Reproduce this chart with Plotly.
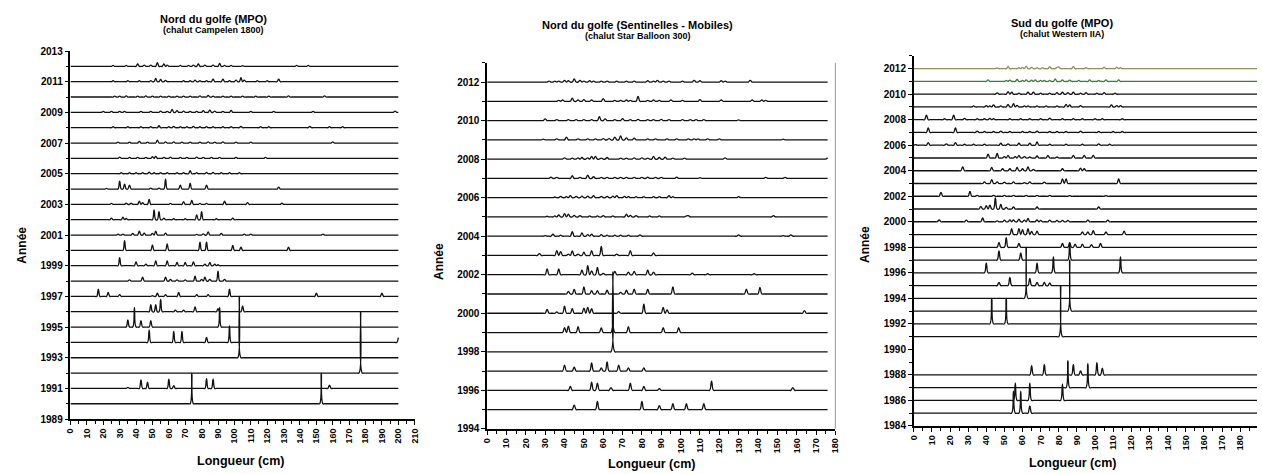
import numpy as np
import plotly.graph_objects as go

W, H = 1262, 474

# ---------------------------------------------------------------------------
# Distributions de fréquences de longueur (%) par année : (longueur cm, %)
# ---------------------------------------------------------------------------
nord_mpo_annees = list(range(2012, 1989, -1))
nord_mpo_pics = [
    [(26,1.5),(34,1.5),(41,4),(45,2),(49,2),(53,6),(57,4),(59,2),(67,1.5),(72,1.5),(75,2),(78,4),(82,2),(87,2),(91,5),(94,1.5),(98,1.5),(105,1),(138,1.5),(145,1.5)],
    [(26,1.6),(35,1.6),(42,1.6),(49,1.6),(52,5.3),(55,3.7),(58,2),(69,1.6),(73,1.6),(76,2.7),(79,1.6),(83,1.6),(87,4),(93,4),(97,1.6),(101,2.7),(104,6.4),(106,2.7),(114,1.6),(120,1.6),(127,4)],
    [(27,1.6),(30,1.6),(34,2),(41,1.6),(46,2),(50,1.6),(55,1.6),(60,1.6),(65,1.6),(69,1.6),(73,1.6),(79,2),(84,2.7),(87,1.6),(93,1.6),(98,1.6),(105,1.6),(113,1.6),(121,1.6),(133,2),(155,2)],
    [(20,1.6),(25,1.6),(30,1.6),(33,1.6),(43,1.6),(49,1.6),(55,2),(59,1.6),(62,4.8),(65,2.7),(69,2),(73,1.6),(77,1.6),(81,2.7),(85,3.7),(88,2),(93,1.6),(98,3.2),(110,1.6),(124,1.6),(148,1.6),(198,2)],
    [(26,1.6),(35,1.6),(43,1.6),(49,1.6),(54,3.2),(60,1.6),(63,2),(67,1.6),(71,1.6),(75,2),(79,1.6),(83,1.6),(87,1.6),(93,1.6),(98,1.6),(104,2),(116,1.6),(121,1.6),(146,2),(158,1.6),(166,1.6)],
    [(29,1.6),(36,1.6),(42,2.7),(47,1.6),(53,4.8),(58,2),(63,2),(68,1.6),(73,1.6),(79,1.6),(84,2),(88,1.6),(93,2),(101,1.6),(110,1.6),(160,2)],
    [(30,2),(36,1.6),(41,1.6),(46,1.6),(50,2.7),(52,3.2),(57,1.6),(61,2),(67,1.6),(71,1.6),(77,2),(81,1.6),(86,1.6),(91,1.6),(101,1.6),(119,1.6)],
    [(31,1.6),(36,1.6),(40,1.6),(44,1.6),(48,2.7),(51,1.6),(55,1.6),(59,1.6),(65,1.6),(69,1.6),(73,4.8),(77,1.6),(83,2),(87,2),(92,1.6),(97,1.6),(103,1.6)],
    [(22,1),(30,13),(33,8),(36,6.4),(49,1.6),(54,1.6),(58,16),(67,6.4),(73,9.6),(83,6.4),(127,3.2)],
    [(25,1.6),(34,2),(37,2),(42,5.3),(44,2.7),(48,8),(61,1.6),(69,4.3),(74,6.4),(79,1.6),(83,1.6),(94,5.3),(108,2.7),(129,2)],
    [(25,2.7),(32,4.3),(34,2),(51,16),(54,13),(57,2.7),(63,1.6),(70,1.6),(77,8),(80,13),(89,1.6),(99,2.7)],
    [(29,1.6),(32,1.6),(38,2.7),(42,6.4),(45,3.2),(50,2.7),(52,6.4),(58,3.2),(77,1),(81,2),(84,5.3),(92,2.7),(106,1.6),(110,1.6),(154,1.6)],
    [(33,16),(50,9),(59,10.6),(79,13.3),(83,13.3),(99,8),(104,5.3),(133,5.3)],
    [(30,13.3),(40,6.4),(46,2.7),(52,8),(59,8),(65,5.3),(70,5.3),(75,6.4),(82,2.7),(85,5.3),(88,2.7),(90,1.6)],
    [(36,2),(44,6.4),(58,6.4),(61,2.7),(65,2),(70,2),(76,8),(80,2.7),(82,6.4),(85,2.7),(90,16),(94,2.7)],
    [(17,11.7),(23,6.4),(30,2.7),(50,1),(53,5.3),(58,2.7),(66,6.4),(77,2.7),(84,2.7),(97,11.7),(150,5.3),(190,5.3)],
    [(49,11.7),(52,11.7),(55,20),(64,2.7),(69,2.7),(76,8),(90,5),(105,9.6)],
    [(35,11.7),(39,32),(43,10.6),(49,10.6),(91,32)],
    [(48,20),(63,18),(68,18),(83,8),(97,27),(200,8)],
    [(103,100)],
    [(177,100)],
    [(35,1.6),(43,14),(47,10),(60,15),(63,4.3),(83,16),(87,15),(158,5.3)],
    [(74,50),(153,50)],
]

sentinelles_annees = list(range(2012, 1994, -1))
sentinelles_pics = [
    [(32,1.2),(35,1.2),(37,1.2),(40,2),(42,1.6),(45,4),(48,2),(50,1.2),(53,1.6),(55,1.2),(59,1.2),(62,1.2),(67,1.2),(72,1.2),(76,1.2),(83,1.6),(86,1.2),(88,2),(91,1.2),(94,1.2),(101,1.2),(107,2),(110,1.6),(121,1.6),(123,1.2),(136,2)],
    [(37,1.2),(39,1.6),(44,4),(47,1.6),(50,2),(54,1.6),(60,3.3),(66,1.2),(69,1.2),(72,1.6),(74,1.2),(78,6),(83,1.2),(86,1.6),(89,1.2),(95,1.6),(101,1.2),(110,2),(121,1.6),(137,1.6),(142,1.6),(144,1.2)],
    [(30,2),(36,1.2),(42,1.2),(46,1.2),(50,1.2),(54,1.2),(58,4.9),(61,2),(66,1.2),(70,2.4),(74,1.2),(78,1.6),(83,1.2),(86,1.2),(90,1.6),(94,1.2),(101,1.2),(105,1.2),(108,1.2),(112,1.2),(130,0.8)],
    [(29,0.8),(36,1.2),(41,3.3),(47,1.2),(52,1.2),(56,1.2),(60,1.6),(63,1.6),(66,3.3),(69,4.9),(72,2.4),(76,2),(83,1.2),(87,1.2),(93,1.2),(98,1.2),(104,1.2),(107,1.2),(109,1.2),(114,1.2),(120,1.2),(153,0.8)],
    [(40,1.6),(44,1.2),(47,1.6),(49,2),(52,1.6),(54,3.3),(56,3.3),(59,1.2),(62,2),(69,1.2),(72,1.2),(76,1.6),(80,1.6),(83,1.2),(86,3.3),(89,2),(92,2.4),(96,1.2),(102,1.2),(123,1.6),(176,1.6)],
    [(33,1.6),(36,1.2),(44,3.3),(48,1.2),(52,4),(55,2),(59,1.2),(62,1.2),(66,1.2),(69,1.2),(72,1.2),(76,1.2),(80,1.2),(83,1.6),(87,1.2),(90,1.2),(98,1.6),(110,0.8),(144,1.2),(154,1.2)],
    [(35,0.8),(38,1.6),(41,1.2),(43,2.4),(46,1.6),(49,2),(52,2),(55,2.4),(59,1.6),(62,1.6),(65,2),(67,2.4),(71,1.6),(73,1.2),(77,1.2),(81,1.2),(86,1.2),(89,1.2),(94,2.4),(96,1.2),(130,1.2)],
    [(31,0.8),(35,1.2),(37,2.4),(40,4),(42,3.3),(45,2),(48,1.6),(53,1.2),(57,1.2),(60,1.6),(65,1.2),(72,3.3),(74,2),(77,1.6),(84,1.2),(89,1.2),(103,1.2),(104,1.6),(148,1.6)],
    [(30,0.8),(34,2.4),(38,1.2),(44,5.7),(49,4),(52,2),(54,2.4),(59,2),(62,1.2),(66,1.2),(69,1.2),(73,1.2),(79,1.6),(130,1.6),(153,0.8),(157,1.6)],
    [(27,2.4),(36,6.1),(38,4.9),(42,1.6),(44,5.7),(47,1.6),(50,4.1),(54,6.1),(59,11.4),(67,1.6),(74,6.1),(86,3.3)],
    [(31,7.3),(37,7.3),(49,5.7),(52,11.4),(54,4.9),(57,9),(60,1.6),(66,4.1),(73,3.3),(76,4.1),(83,5.7),(86,3.3),(106,2),(114,1.2),(138,1.2)],
    [(42,3.3),(45,5.7),(50,9),(54,4.1),(57,4.1),(62,4.9),(69,2),(72,4.9),(76,6.1),(83,5.7),(96,9),(134,6.1),(141,8.1)],
    [(31,4.9),(36,1.6),(40,9),(44,5.7),(50,6.5),(52,7.3),(54,5.7),(68,2),(81,11.4),(91,7.3),(93,4.1),(164,3.3)],
    [(40,6.1),(42,8.1),(47,7.3),(59,5.7),(65,7.3),(73,7.3),(91,6.1),(99,6.1)],
    [(65,100)],
    [(40,7.3),(45,4.9),(54,10.2),(59,4.1),(62,11.4),(68,7.3),(73,4.1),(81,4.1)],
    [(43,4.9),(54,10.2),(57,9),(64,3.3),(74,9),(81,4.9),(89,2),(116,11.4),(158,3.3)],
    [(45,5.7),(57,10.2),(80,10.2),(89,4.9),(96,7.3),(103,7.3),(112,7.3)],
]

sud_mpo_annees = list(range(2012, 1990, -1)) + [1988, 1987, 1986, 1985]
sud_mpo_pics = [
    [(46,1.3),(52,3.9),(58,1.9),(60,2.6),(62,5.1),(65,2.6),(68,1.9),(71,1.9),(75,3.9),(79,2.6),(80,3.2),(88,3.9),(95,1.9),(105,3.2),(112,3.2),(114,1.9)],
    [(41,3.2),(51,1.9),(53,2.6),(57,3.9),(60,1.9),(62,3.2),(65,2.6),(67,3.2),(70,1.9),(72,1.9),(75,1.9),(78,5.1),(82,3.2),(86,2.6),(91,1.9),(97,3.2),(102,1.9),(106,3.2),(113,3.2)],
    [(46,2.6),(52,5.1),(54,3.9),(58,1.9),(63,3.9),(66,3.9),(70,1.9),(75,1.9),(79,3.2),(82,3.9),(85,3.2),(88,3.9),(92,1.9),(95,3.2),(101,1.9),(105,3.2),(111,1.9)],
    [(33,1.9),(40,2.6),(42,1.9),(44,3.9),(48,1.9),(52,5.1),(55,6.4),(57,3.2),(61,1.9),(63,1.9),(68,1.9),(73,1.9),(79,1.9),(84,5.1),(86,3.9),(92,2.6),(109,3.9),(112,2.6),(114,2.6)],
    [(7,9),(17,1.9),(22,9),(28,2.6),(35,1.9),(39,1.9),(42,2.6),(44,1.9),(53,1.9),(59,1.9),(64,1.9),(70,1.9),(75,3.2),(82,1.9),(88,1.9),(93,1.9),(100,1.9),(104,1.9),(115,1.9)],
    [(8,9),(23,9),(35,2.6),(39,1.9),(44,1.9),(48,2.6),(53,1.9),(60,1.9),(64,1.9),(68,2.6),(75,1.9),(79,1.9),(84,1.9),(92,2.6),(102,1.9),(110,1.9),(115,1.9)],
    [(1,1.3),(8,5.1),(18,2.6),(23,5.1),(28,1.9),(33,1.9),(39,1.9),(48,3.9),(52,2.6),(58,3.9),(64,3.9),(68,6.4),(75,1.9),(84,1.9),(93,1.9),(102,2.6),(108,1.9)],
    [(41,7.7),(46,9),(50,2.6),(52,5.1),(56,2.6),(58,5.1),(61,2.6),(64,1.9),(68,3.9),(74,5.1),(79,1.9),(88,5.1),(94,5.1),(99,5.1)],
    [(27,7.7),(43,6.4),(49,3.9),(53,3.9),(57,6.4),(60,3.9),(63,7.7),(66,2.6),(82,3.9),(92,5.1),(94,3.9)],
    [(39,3.2),(43,7.7),(46,3.2),(50,2.6),(55,3.2),(61,1.9),(64,3.2),(72,2.6),(82,9),(84,9),(113,9)],
    [(15,7.7),(31,9.6),(35,1.9),(44,1.9),(50,1.9),(55,1.9),(62,1.9),(68,1.9),(75,1.9),(86,1.3),(106,1.3)],
    [(37,5.1),(40,6.4),(42,7.7),(45,22),(48,9),(51,3.2),(55,3.9),(68,3.9),(102,3.9)],
    [(14,3.9),(29,3.2),(38,7.7),(46,1.9),(50,3.2),(53,3.9),(55,3.9),(58,5.1),(61,3.2),(63,6.4),(68,3.9),(70,2.6),(75,3.2),(79,2.6),(82,2.6),(85,2.6),(96,3.2),(107,3.2)],
    [(54,11.6),(58,11.6),(60,9.6),(63,11.6),(65,6),(68,6.4),(93,5.1),(96,5.1),(99,7.7),(106,5.1),(116,6.4)],
    [(47,9.6),(51,19),(58,7.7),(82,7.7),(86,9.6),(89,6.4),(93,6.4),(98,5.1),(103,7.7)],
    [(47,18),(59,14),(86,32)],
    [(40,19),(68,19),(77,31),(114,31)],
    [(47,6.4),(53,16),(64,14),(68,6.4),(72,6.4),(75,5)],
    [(62,100)],
    [(86,100)],
    [(43,50),(51,50)],
    [(81,100)],
    [(65,18),(72,20),(88,20),(92,8),(101,24),(104,13)],
    [(85,53),(96,47)],
    [(56,34),(64,34),(82,32)],
    [(55,43),(59,43),(64,14)],
]

# couleurs particulières de certaines années (Sud du golfe)
couleurs_sud = {2012: "#8f8f5e", 2011: "#3f7a3f"}

POLICE = "Arial, Liberation Sans, sans-serif"
NOIR = "#111111"


def px_x(p):
    return p / W


def px_y(p):
    return 1 - p / H


panneaux = [
    dict(annees=nord_mpo_annees, pics=nord_mpo_pics, lmax=200, echelle=4.0,
         x0=66, x1=413, xrange=[0, 210], ytop=47, ybot=423, yrange=[1989, 2013],
         ytick0=1989, titre="Nord du golfe (MPO)", sous_titre="(chalut Campelen 1800)",
         tx=210, ty=14, sty=26, lx=238, ly=466, ax=17, ay=245, couleurs={}),
    dict(annees=sentinelles_annees, pics=sentinelles_pics, lmax=176, echelle=4.15,
         x0=486, x1=837, xrange=[0, 180], ytop=59, ybot=433, yrange=[1994, 2013],
         ytick0=1994, titre="Nord du golfe (Sentinelles - Mobiles)", sous_titre="(chalut Star Balloon 300)",
         tx=638, ty=20, sty=32, lx=652, ly=469, ax=438, ay=262, couleurs={}),
    dict(annees=sud_mpo_annees, pics=sud_mpo_pics, lmax=190, echelle=4.0,
         x0=916, x1=1262, xrange=[0, (1262 - 916) / 1.828], ytop=52, ybot=430, yrange=[1984, 2013],
         ytick0=1984, titre="Sud du golfe (MPO)", sous_titre="(chalut Western IIA)",
         tx=1065, ty=18, sty=30, lx=1077, ly=468, ax=867, ay=245, couleurs=couleurs_sud),
]

fig = go.Figure()
annotations = []
shapes = []


def texte(t, x, y, taille, angle=0):
    return dict(text=f"<b>{t}</b>", x=px_x(x), y=px_y(y), xref="paper", yref="paper",
                xanchor="center", yanchor="middle", showarrow=False, textangle=angle,
                font=dict(family=POLICE, size=taille, color="black"))


for i, p in enumerate(panneaux, start=1):
    xa = "x" if i == 1 else f"x{i}"
    ya = "y" if i == 1 else f"y{i}"
    longueurs = np.arange(0, p["lmax"] + 1)
    for annee, pics in zip(p["annees"], p["pics"]):
        freq = np.zeros(len(longueurs))
        for L, pct in pics:
            freq[int(round(L))] += pct
        fig.add_trace(go.Scatter(
            x=longueurs, y=annee + freq * p["echelle"] / 100.0,
            mode="lines",
            line=dict(color=p["couleurs"].get(annee, NOIR), width=1.3, shape="spline", smoothing=1.3),
            xaxis=xa, yaxis=ya, showlegend=False, hoverinfo="skip",
        ))

    xkey = "xaxis" if i == 1 else f"xaxis{i}"
    ykey = "yaxis" if i == 1 else f"yaxis{i}"
    fig.update_layout({
        xkey: dict(
            domain=[px_x(p["x0"]), px_x(p["x1"])], range=p["xrange"], anchor=ya,
            tickmode="linear", tick0=0, dtick=10, ticks="outside", ticklen=4,
            tickwidth=1, tickcolor="black", tickangle=-90,
            tickfont=dict(family=POLICE, size=9, color="black", weight="bold"),
            showline=True, linecolor="black", linewidth=1.5,
            showgrid=False, zeroline=False, fixedrange=True,
            minor=dict(dtick=5, ticks="outside", ticklen=3, tickcolor="black", showgrid=False),
        ),
        ykey: dict(
            domain=[px_y(p["ybot"]), px_y(p["ytop"])], range=p["yrange"], anchor=xa,
            tickmode="linear", tick0=p["ytick0"], dtick=2, ticks="outside", ticklen=4,
            tickwidth=1, tickcolor="black",
            tickfont=dict(family=POLICE, size=10, color="black", weight="bold"),
            showline=True, linecolor="black", linewidth=1.5,
            showgrid=False, zeroline=False, fixedrange=True,
            minor=dict(dtick=1, ticks="outside", ticklen=3, tickcolor="black", showgrid=False),
        ),
    })

    annotations += [
        texte(p["titre"], p["tx"], p["ty"], 11),
        texte(p["sous_titre"], p["tx"], p["sty"], 9),
        texte("Longueur (cm)", p["lx"], p["ly"], 12.5),
        texte("Année", p["ax"], p["ay"], 12, angle=-90),
    ]

# bordure droite de la zone de tracé du panneau central
shapes.append(dict(type="line", xref="paper", yref="paper",
                   x0=px_x(837), x1=px_x(837), y0=px_y(433), y1=px_y(59),
                   line=dict(color="#9a9a9a", width=1)))

fig.update_layout(
    width=W, height=H, margin=dict(l=0, r=0, t=0, b=0),
    paper_bgcolor="white", plot_bgcolor="white",
    annotations=annotations, shapes=shapes, showlegend=False,
)

fig.write_html("out.html")
